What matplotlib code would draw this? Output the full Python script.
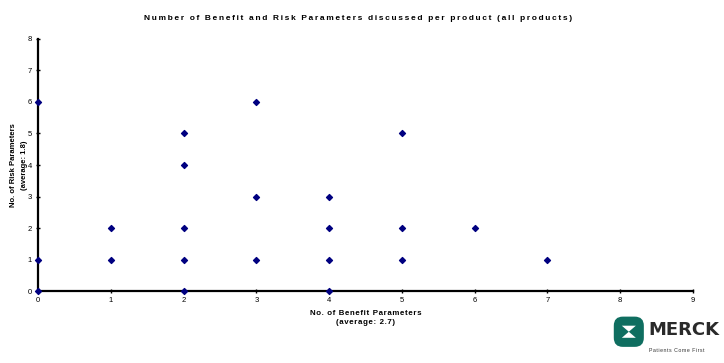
import matplotlib.pyplot as plt
from matplotlib.patches import FancyBboxPatch, Polygon

# benefit / risk parameter counts per product
benefit = [0, 0, 0, 1, 1, 2, 2, 2, 2, 2, 3, 3, 3, 4, 4, 4, 4, 5, 5, 5, 6, 7]
risk = [0, 1, 6, 1, 2, 0, 1, 2, 4, 5, 1, 3, 6, 0, 1, 2, 3, 1, 2, 5, 2, 1]
x_ticks = list(range(0, 10))
y_ticks = list(range(0, 9))

title = 'Number of Benefit and Risk Parameters discussed per product (all products)'
x_label = ['No. of Benefit Parameters', '(average: 2.7)']
y_label = 'No. of Risk Parameters'
y_label2 = '(average: 1.8)'

plt.rcParams['font.family'] = ['Liberation Sans', 'DejaVu Sans']


def spaced(s, gap='\u200a'):
    # widen the letter spacing with hair spaces
    return gap.join(s)


fig = plt.figure(figsize=(7.24, 3.63), dpi=100)
ax = fig.add_axes([0.0525, 0.1983, 0.9045, 0.6943])

ax.scatter(benefit, risk, marker='D', s=9, color='#000080', zorder=3, clip_on=False)

ax.set_xlim(0, 9)
ax.set_ylim(0, 8)
ax.set_xticks(x_ticks)
ax.set_yticks(y_ticks)
ax.tick_params(labelsize=5.5, length=3, width=1, direction='inout', pad=3)
for side in ['top', 'right']:
    ax.spines[side].set_visible(False)
for side in ['left', 'bottom']:
    ax.spines[side].set_linewidth(1.6)

fig.text(0.494, 0.95, spaced(title, '\u2009'), ha='center', va='center', fontsize=6.0,
         fontweight='heavy')
fig.text(0.5055, 0.135, spaced(x_label[0]), ha='center', va='center', fontsize=5.7,
         fontweight='bold')
fig.text(0.5055, 0.112, spaced(x_label[1]), ha='center', va='center', fontsize=5.7,
         fontweight='bold')
fig.text(0.018, 0.545, y_label, ha='center', va='center', rotation=90,
         fontsize=5.5, fontweight='bold')
fig.text(0.0335, 0.545, y_label2, ha='center', va='center', rotation=90,
         fontsize=5.5, fontweight='bold')

# company logo, bottom right
logo_ax = fig.add_axes([0.845, 0.025, 0.155, 0.125])
logo_ax.set_xlim(0, 112)
logo_ax.set_ylim(0, 45)
logo_ax.axis('off')
teal = '#0f6e60'
logo_ax.add_patch(FancyBboxPatch((4, 9), 26, 26, boxstyle='round,pad=2,rounding_size=9',
                                 fc=teal, ec='none'))
logo_ax.add_patch(Polygon([(10, 28), (24, 28), (17, 22)], fc='white', ec='none'))
logo_ax.add_patch(Polygon([(10, 16), (24, 16), (17, 22)], fc='white', ec='none'))
logo_ax.text(37, 24, 'MERCK', fontsize=13, fontweight='heavy', color='#2a2a2a',
             va='center', ha='left', family=['DejaVu Sans'], clip_on=False)
logo_ax.text(37, 3, spaced('Patients Come First'), fontsize=3.8, color='#333333',
             va='center', ha='left', clip_on=False)

fig.savefig('out.png', dpi=100)
